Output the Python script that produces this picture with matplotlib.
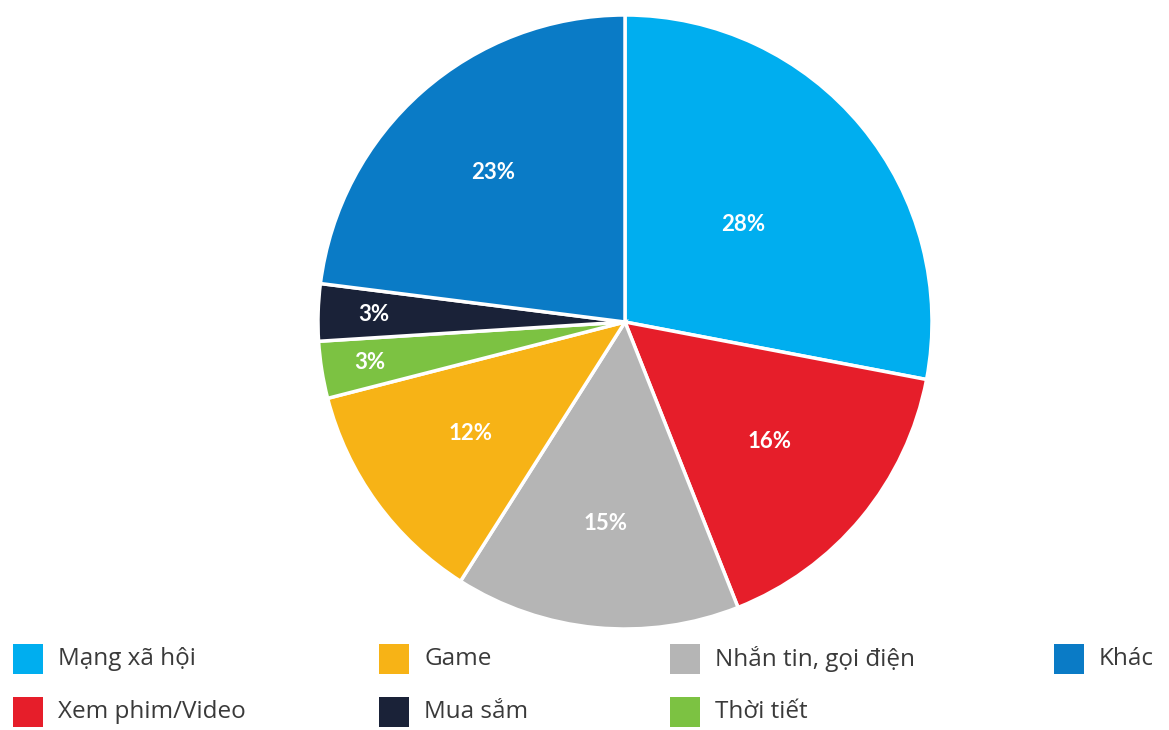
import matplotlib
matplotlib.use("Agg")
import matplotlib.pyplot as plt
from matplotlib.patches import Rectangle
import numpy as np

# slices, clockwise from 12 o'clock
categories = ["Mạng xã hội", "Xem phim/Video", "Nhắn tin, gọi điện", "Game",
              "Thời tiết", "Mua sắm", "Khác"]
shares = [28, 16, 15, 12, 3, 3, 23]
colors = ["#00AEEF", "#E61E2A", "#B5B5B5", "#F7B316", "#7CC242", "#1A2238", "#0A7BC6"]
label_radius = [0.50, 0.61, 0.66, 0.62, 0.84, 0.82, 0.65]

# legend order as drawn (row-major, 4 columns)
legend_order = ["Mạng xã hội", "Game", "Nhắn tin, gọi điện", "Khác",
                "Xem phim/Video", "Mua sắm", "Thời tiết"]

W, H = 1169, 730
fig = plt.figure(figsize=(W / 100, H / 100), dpi=100)
fig.patch.set_facecolor("white")

cx, cy, r = 625, 322, 307
ax = fig.add_axes([(cx - r) / W, (H - cy - r) / H, 2 * r / W, 2 * r / H])
wedges, _ = ax.pie(shares, colors=colors, startangle=90, counterclock=False,
                   wedgeprops=dict(edgecolor="white", linewidth=2.5))
ax.set_xlim(-1, 1)
ax.set_ylim(-1, 1)
ax.set_aspect("equal")
ax.axis("off")

for w, val, rad in zip(wedges, shares, label_radius):
    ang = np.deg2rad((w.theta1 + w.theta2) / 2)
    ax.text(rad * np.cos(ang), rad * np.sin(ang), f"{val}%", ha="center", va="center",
            color="white", fontsize=16, fontweight="bold", family="Lato")

# legend drawn by hand: uneven column positions
col_x = [13, 379, 670, 1054]
row_y = [659, 712]
sq = 30
for i, name in enumerate(legend_order):
    row, col = divmod(i, 4)
    x, y = col_x[col], row_y[row]
    c = colors[categories.index(name)]
    fig.patches.append(Rectangle((x / W, (H - y - sq / 2) / H), sq / W, sq / H,
                                 transform=fig.transFigure, facecolor=c, edgecolor="none"))
    fig.text((x + sq + 15) / W, (H - y) / H, name, ha="left", va="center",
             fontsize=17.5, color="#3a3a3a", family="Open Sans")

fig.savefig("out.png", dpi=100)
